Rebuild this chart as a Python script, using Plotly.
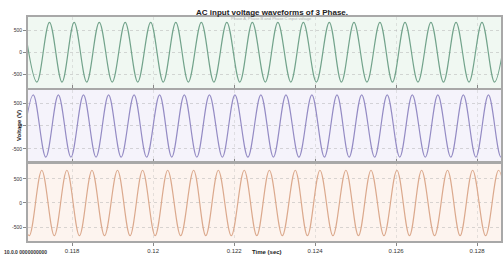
import plotly.graph_objects as go

# ---------------- data ----------------
# times (s) of the successive extrema of each phase, and the voltage there (V)
phase_a_t = [0.11681, 0.11713, 0.11744, 0.11775, 0.11805, 0.11836, 0.11867, 0.11899,
             0.11931, 0.11962, 0.11994, 0.12025, 0.12056, 0.12087, 0.12119, 0.12150,
             0.12182, 0.12214, 0.12245, 0.12277, 0.12308, 0.12340, 0.12371, 0.12403,
             0.12435, 0.12465, 0.12496, 0.12528, 0.12560, 0.12591, 0.12622, 0.12654,
             0.12686, 0.12717, 0.12748, 0.12780, 0.12812, 0.12843, 0.12874]
phase_a_v = [680, -680, 680, -680, 680, -680, 680, -680, 680, -680, 680, -680, 680,
             -680, 680, -680, 680, -680, 680, -680, 680, -680, 680, -680, 680, -680,
             680, -680, 680, -680, 680, -680, 680, -680, 680, -680, 680, -680, 680]

phase_b_t = [0.11674, 0.11704, 0.11735, 0.11766, 0.11797, 0.11828, 0.11859, 0.11890,
             0.11921, 0.11953, 0.11984, 0.12016, 0.12046, 0.12077, 0.12108, 0.12139,
             0.12171, 0.12202, 0.12234, 0.12266, 0.12297, 0.12328, 0.12360, 0.12392,
             0.12423, 0.12454, 0.12484, 0.12515, 0.12547, 0.12578, 0.12609, 0.12640,
             0.12672, 0.12703, 0.12735, 0.12766, 0.12797, 0.12828, 0.12859, 0.12890]
phase_b_v = [-680, 680, -680, 680, -680, 680, -680, 680, -680, 680, -680, 680, -680,
             680, -680, 680, -680, 680, -680, 680, -680, 680, -680, 680, -680, 680,
             -680, 680, -680, 680, -680, 680, -680, 680, -680, 680, -680, 680, -680, 680]

phase_c_t = [0.11663, 0.11694, 0.11725, 0.11756, 0.11787, 0.11818, 0.11849, 0.11880,
             0.11912, 0.11943, 0.11974, 0.12005, 0.12036, 0.12068, 0.12100, 0.12130,
             0.12161, 0.12193, 0.12225, 0.12256, 0.12287, 0.12319, 0.12351, 0.12381,
             0.12412, 0.12444, 0.12476, 0.12507, 0.12538, 0.12570, 0.12602, 0.12633,
             0.12663, 0.12695, 0.12727, 0.12758, 0.12789, 0.12821, 0.12853, 0.12884]
phase_c_v = [680, -680, 680, -680, 680, -680, 680, -680, 680, -680, 680, -680, 680,
             -680, 680, -680, 680, -680, 680, -680, 680, -680, 680, -680, 680, -680,
             680, -680, 680, -680, 680, -680, 680, -680, 680, -680, 680, -680, 680, -680]

x_tick_vals = [0.118, 0.12, 0.122, 0.124, 0.126, 0.128]
x_tick_text = ["0.118", "0.12", "0.122", "0.124", "0.126", "0.128"]
y_tick_vals = [-500, 0, 500]
y_tick_text = ["-500", "0", "500"]

title_text = "AC input voltage waveforms of 3 Phase."
subtitle_text = "Phase A, Phase B and Phase C input voltage"
x_title = "Time (sec)"
y_title = "Voltage (V)"
footer_text = "10.0.0 0000000000"

# ---------------- figure ----------------
FONT = "Liberation Sans, Arial, sans-serif"
line_colors = ["#72a38b", "#948bc4", "#dba98d"]
bg_colors = ["#f0f8f2", "#f5f3fb", "#fdf4ef"]
domains = [[0.683, 1.0], [0.353, 0.674], [0.0, 0.348]]
y_ranges = [[-815, 800], [-785, 785], [-790, 830]]

fig = go.Figure()
series = [(phase_a_t, phase_a_v), (phase_b_t, phase_b_v), (phase_c_t, phase_c_v)]
for i, (t, v) in enumerate(series):
    suffix = "" if i == 0 else str(i + 1)
    fig.add_trace(go.Scatter(
        x=t, y=v, mode="lines",
        line=dict(color=line_colors[i], width=1.2, shape="spline", smoothing=1.0),
        xaxis="x" + suffix, yaxis="y" + suffix, showlegend=False,
        hoverinfo="skip"))

layout = dict(
    width=503, height=261,
    margin=dict(l=28, r=2, t=17, b=20, autoexpand=False),
    paper_bgcolor="white",
    plot_bgcolor="white",
    font=dict(family=FONT, size=6, color="#333333"),
    showlegend=False,
)

for i in range(3):
    suffix = "" if i == 0 else str(i + 1)
    xa = dict(
        range=[0.11691, 0.12859], domain=[0, 1],
        anchor="y" + suffix, automargin=False,
        tickvals=x_tick_vals, ticktext=x_tick_text,
        showticklabels=(i == 2),
        ticks="outside" if i == 2 else "inside", ticklen=3, tickcolor="#888888",
        showgrid=True, gridcolor="rgba(180,180,180,0.35)", gridwidth=1,
        griddash="dot",
        showline=True, linecolor="#a8a8a8", linewidth=2, mirror=True,
        zeroline=False,
        tickfont=dict(size=6, color="#333333"),
    )
    if i > 0:
        xa["matches"] = "x"
    layout["xaxis" + suffix] = xa

    ya = dict(
        range=y_ranges[i], domain=domains[i],
        anchor="x" + suffix, automargin=False,
        tickvals=y_tick_vals, ticktext=y_tick_text,
        ticks="outside", ticklen=3, tickcolor="#888888",
        showgrid=True, gridcolor="rgba(170,170,170,0.45)", gridwidth=1,
        griddash="dot",
        showline=True, linecolor="#a8a8a8", linewidth=2, mirror=True,
        zeroline=False,
        tickfont=dict(size=5, color="#333333"),
    )
    layout["yaxis" + suffix] = ya

fig.update_layout(**layout)

# panel background tints
for i in range(3):
    suffix = "" if i == 0 else str(i + 1)
    fig.add_shape(type="rect", xref="x" + suffix + " domain", yref="y" + suffix + " domain",
                  x0=0, x1=1, y0=0, y1=1, fillcolor=bg_colors[i], line=dict(width=0),
                  layer="below")

fig.add_annotation(text="<b>" + title_text + "</b>", xref="paper", yref="paper",
                   x=0.515, y=1.0, yshift=11, showarrow=False,
                   font=dict(size=8, color="#222222", family=FONT))
fig.add_annotation(text=subtitle_text, xref="paper", yref="paper",
                   x=0.515, y=1.0, yshift=3, showarrow=False,
                   font=dict(size=4, color="#b5b5b5", family=FONT))
fig.add_annotation(text="<b>" + x_title + "</b>", xref="paper", yref="paper",
                   x=0.506, y=0, yshift=-16, showarrow=False,
                   font=dict(size=6, color="#222222", family=FONT))
fig.add_annotation(text="<b>" + y_title + "</b>", xref="paper", yref="y2",
                   x=0, xshift=-14, y=0, textangle=-90, showarrow=False,
                   font=dict(size=6, color="#222222", family=FONT))
fig.add_annotation(text="<b>" + footer_text + "</b>", xref="paper", yref="paper",
                   x=0, xshift=-26, y=0, yshift=-16, xanchor="left", showarrow=False,
                   font=dict(size=5, color="#333333", family=FONT))

fig.write_html("out.html",
               config={"displayModeBar": False, "staticPlot": True},
               post_script="document.body.style.margin='0';document.body.style.padding='0';"
                           "document.documentElement.style.overflow='hidden';")
